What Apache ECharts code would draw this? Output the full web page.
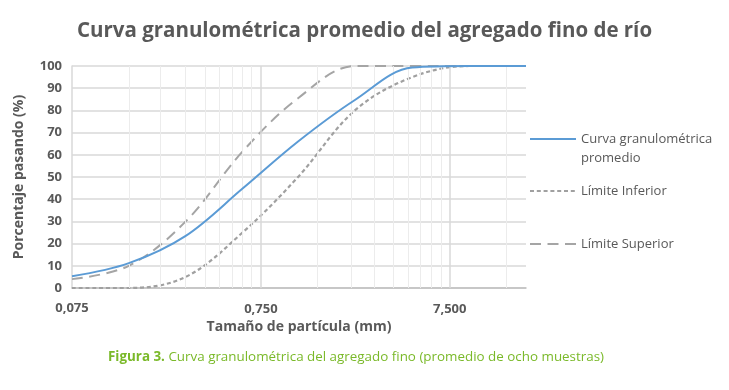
<!DOCTYPE html>
<html><head><meta charset="utf-8">
<script src="https://cdn.jsdelivr.net/npm/echarts@6/dist/echarts.min.js"></script>
<style>html,body{margin:0;padding:0;background:#fff}#c{width:729px;height:390px}</style>
</head><body><div id="c"></div>
<script>
const sizes = [0.075, 0.15, 0.3, 0.6, 1.18, 2.36, 4.75, 9.5, 19];
const promedio = [5.3, 11.2, 23.5, 44.8, 66, 84.7, 99.3, 100, 100];
const limiteInferior = [0, 0, 5, 25, 50, 80, 95, 100, 100];
const limiteSuperior = [4, 10, 30, 61.5, 85.5, 100, 100, 100, 100];
const xTickValues = [0.075, 0.75, 7.5];
const xTickLabels = ['0,075', '0,750', '7,500'];
const minorMultipliers = [2, 3, 4, 5, 6, 7, 8, 9];
const names = ['Curva granulométrica promedio', 'Límite Inferior', 'Límite Superior'];

const pairs = ys => sizes.map((x, i) => [x, ys[i]]);
const xMin = 0.075, xMax = 19;
const FONT = '"Open Sans", "Noto Sans", sans-serif';
const TXT = '#595959';
const labelStyle = {fontFamily: FONT, fontSize: 13, fontWeight: 'bold', color: TXT};

const majorLines = xTickValues.map((v, i) => ({
  xAxis: v,
  lineStyle: {color: '#d9d9d9', width: 1.5, type: 'solid'},
  label: Object.assign({show: true, position: 'start', distance: 15, formatter: xTickLabels[i]}, labelStyle)
}));
const minorLines = [];
xTickValues.forEach(base => minorMultipliers.forEach(m => {
  const v = base * m;
  if (v < xMax) minorLines.push({xAxis: v, lineStyle: {color: '#ececec', width: 1, type: 'solid'}, label: {show: false}});
}));

const legendBase = {orient: 'vertical', left: 529, itemWidth: 46, itemHeight: 10, padding: 0,
  itemStyle: {opacity: 0},
  textStyle: {fontFamily: FONT, fontSize: 13, color: TXT, lineHeight: 19}};

const chart = echarts.init(document.getElementById('c'), null, {renderer: 'canvas'});
chart.setOption({
  animation: false,
  title: {
    text: 'Curva granulométrica promedio del agregado fino de río',
    left: 'center', top: 16,
    textStyle: {fontFamily: FONT, fontSize: 20.5, fontWeight: 'bold', color: TXT}
  },
  grid: {left: 72, right: 203, top: 66, bottom: 102, containLabel: false},
  legend: [
    Object.assign({}, legendBase, {top: 110.5, data: [names[0]],
      formatter: () => ' \nCurva granulométrica\npromedio'}),
    Object.assign({}, legendBase, {top: 181.5, data: [names[1]]}),
    Object.assign({}, legendBase, {top: 234.5, data: [names[2]]})
  ],
  xAxis: {
    type: 'log', logBase: 10, min: xMin, max: xMax,
    name: 'Tamaño de partícula (mm)', nameLocation: 'middle', nameGap: 30,
    nameTextStyle: {fontFamily: FONT, fontSize: 14, fontWeight: 'bold', color: TXT},
    axisLine: {show: true, lineStyle: {color: '#bfbfbf', width: 1.5}},
    axisTick: {show: false},
    splitLine: {show: false},
    axisLabel: Object.assign({show: true, margin: 14, showMaxLabel: false,
      formatter: v => (Math.abs(v - xMin) / xMin < 1e-3 ? xTickLabels[0] : '')}, labelStyle)
  },
  yAxis: {
    type: 'value', min: 0, max: 100, interval: 10,
    name: 'Porcentaje pasando (%)', nameLocation: 'middle', nameGap: 46,
    nameTextStyle: {fontFamily: FONT, fontSize: 14, fontWeight: 'bold', color: TXT},
    axisLine: {show: true, lineStyle: {color: '#d9d9d9', width: 1.5}}, axisTick: {show: false},
    splitLine: {lineStyle: {color: '#d9d9d9', width: 1.5}},
    axisLabel: Object.assign({margin: 10}, labelStyle)
  },
  graphic: [{
    type: 'text', left: 108, top: 351,
    style: {
      text: '{b|Figura 3.} Curva granulométrica del agregado fino (promedio de ocho muestras)',
      font: '13.4px ' + FONT, fill: '#7ab929',
      rich: {b: {fontFamily: FONT, fontSize: 13.4, fontWeight: 'bold', fill: '#7ab929'}}
    }
  }],
  series: [
    {
      name: 'grid', type: 'line', data: [], z: 0, silent: true,
      markLine: {silent: true, symbol: ['none', 'none'], animation: false,
        data: minorLines.concat(majorLines)}
    },
    {name: names[0], type: 'line', data: pairs(promedio), smooth: 0.35, symbol: 'none', z: 5,
     lineStyle: {color: '#5b9bd5', width: 2}, itemStyle: {color: '#5b9bd5'}},
    {name: names[1], type: 'line', data: pairs(limiteInferior), smooth: 0.35, symbol: 'none', z: 4,
     lineStyle: {color: '#a0a0a0', width: 2.2, type: [4, 2.8]}, itemStyle: {color: '#a0a0a0'}},
    {name: names[2], type: 'line', data: pairs(limiteSuperior), smooth: 0.35, symbol: 'none', z: 4,
     lineStyle: {color: '#a5a5a5', width: 2, type: [11, 6.5]}, itemStyle: {color: '#a5a5a5'}}
  ]
});
</script></body></html>
